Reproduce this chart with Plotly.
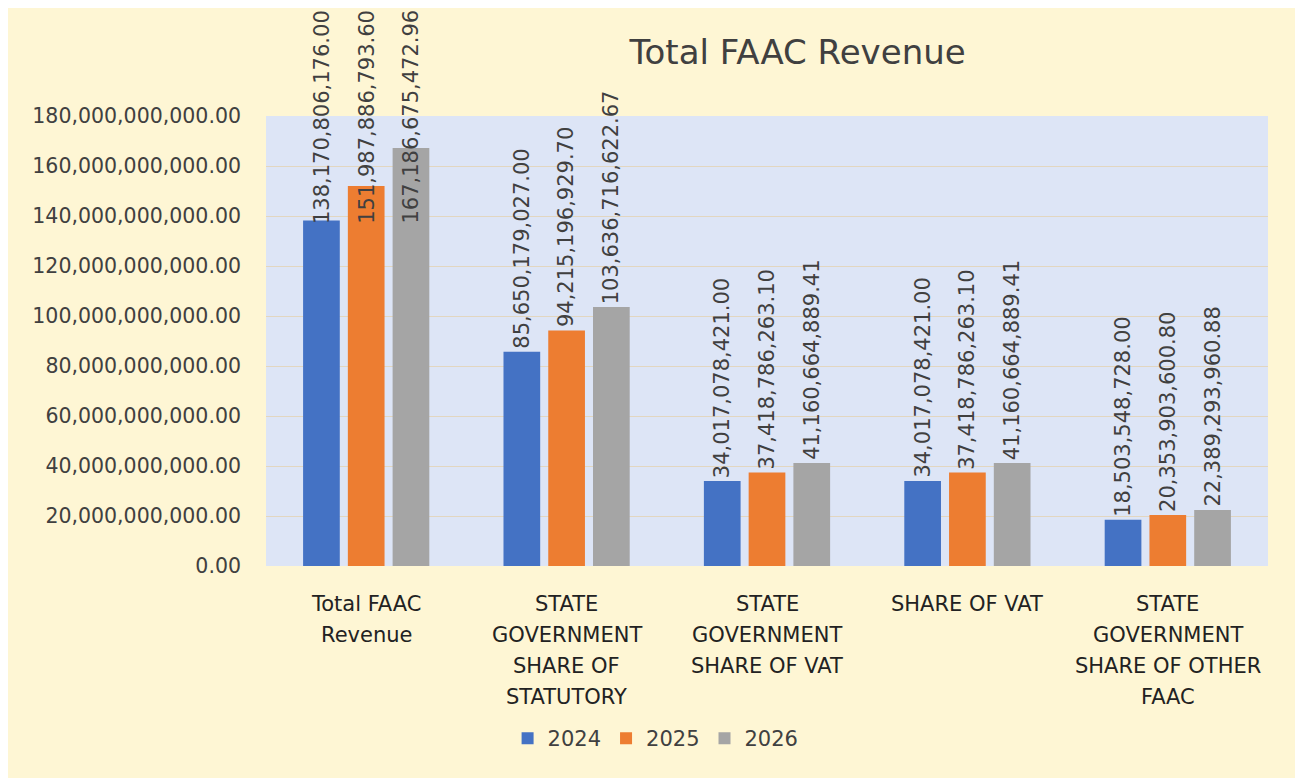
import plotly.graph_objects as go

categories = [
    "Total FAAC<br>Revenue",
    "STATE<br>GOVERNMENT<br>SHARE OF<br>STATUTORY",
    "STATE<br>GOVERNMENT<br>SHARE OF VAT",
    "SHARE OF VAT",
    "STATE<br>GOVERNMENT<br>SHARE OF OTHER<br>FAAC",
]
series_names = ["2024", "2025", "2026"]
values_2024 = [138170806176.00, 85650179027.00, 34017078421.00, 34017078421.00, 18503548728.00]
values_2025 = [151987886793.60, 94215196929.70, 37418786263.10, 37418786263.10, 20353903600.80]
values_2026 = [167186675472.96, 103636716622.67, 41160664889.41, 41160664889.41, 22389293960.88]
colors = ["#4472C4", "#ED7D31", "#A5A5A5"]

tick_vals = [0, 20e9, 40e9, 60e9, 80e9, 100e9, 120e9, 140e9, 160e9, 180e9]
tick_text = ["{:,.2f}".format(v) for v in tick_vals]

BARGAP = 0.33
BARGROUPGAP = 0.18
all_series = [values_2024, values_2025, values_2026]
n_series = len(all_series)

fig = go.Figure()
for name, vals, col in zip(series_names, all_series, colors):
    fig.add_trace(go.Bar(
        name=name,
        x=list(range(len(categories))),
        y=vals,
        marker=dict(color=col, line=dict(width=0)),
        hovertext=[c.replace("<br>", " ") for c in categories],
    ))

annotations = []
# data labels (rotated), like the spreadsheet's outside-end labels
slot = (1 - BARGAP) / n_series
for si, vals in enumerate(all_series):
    for ci, v in enumerate(vals):
        group_vals = [s[ci] for s in all_series]
        # first group labels are pulled down to the lowest bar so they fit
        anchor_y = min(group_vals) if ci == 0 else v
        annotations.append(dict(
            x=ci + (si - (n_series - 1) / 2) * slot,
            y=anchor_y,
            xref="x", yref="y",
            text="{:,.2f}".format(v),
            textangle=-90,
            showarrow=False,
            xanchor="center", yanchor="bottom",
            yshift=-5 if ci == 0 else 1,
            font=dict(family="DejaVu Sans", size=21, color="#404040"),
        ))

# category labels, one line each, with the wider line spacing of the original
plot_h = 450.0
for ci, cat in enumerate(categories):
    for k, line in enumerate(cat.split("<br>")):
        annotations.append(dict(
            x=ci, y=-(38 + 31 * k) / plot_h,
            xref="x", yref="paper",
            text=line, showarrow=False,
            xanchor="center", yanchor="middle",
            font=dict(family="DejaVu Sans", size=21, color="#222222"),
        ))

fig.update_layout(
    width=1303,
    height=778,
    barmode="group",
    bargap=BARGAP,
    bargroupgap=BARGROUPGAP,
    paper_bgcolor="#FEF6D4",
    plot_bgcolor="#DDE5F6",
    margin=dict(l=258, r=43, t=108, b=220, autoexpand=False),
    title=dict(
        text="Total FAAC Revenue",
        x=0.606, xanchor="center",
        y=0.943, yanchor="middle",
        font=dict(family="DejaVu Sans", size=34, color="#404040"),
    ),
    yaxis=dict(
        range=[0, 180e9],
        tickvals=tick_vals,
        ticktext=tick_text,
        showgrid=True,
        gridcolor="#E2D6C0",
        gridwidth=1,
        zeroline=False,
        tickfont=dict(family="DejaVu Sans", size=20.5, color="#404040"),
        ticks="",
        ticklabelstandoff=24,
    ),
    xaxis=dict(
        range=[-0.5, len(categories) - 0.5],
        showticklabels=False,
        ticks="",
        showgrid=False,
        showline=False,
        zeroline=False,
    ),
    legend=dict(
        orientation="h",
        x=0.497, xanchor="center",
        xref="container",
        y=0.061, yanchor="middle",
        yref="container",
        font=dict(family="DejaVu Sans", size=21, color="#404040"),
        bgcolor="rgba(0,0,0,0)",
        itemwidth=30,
    ),
    annotations=annotations,
)

fig.write_html("out.html")
